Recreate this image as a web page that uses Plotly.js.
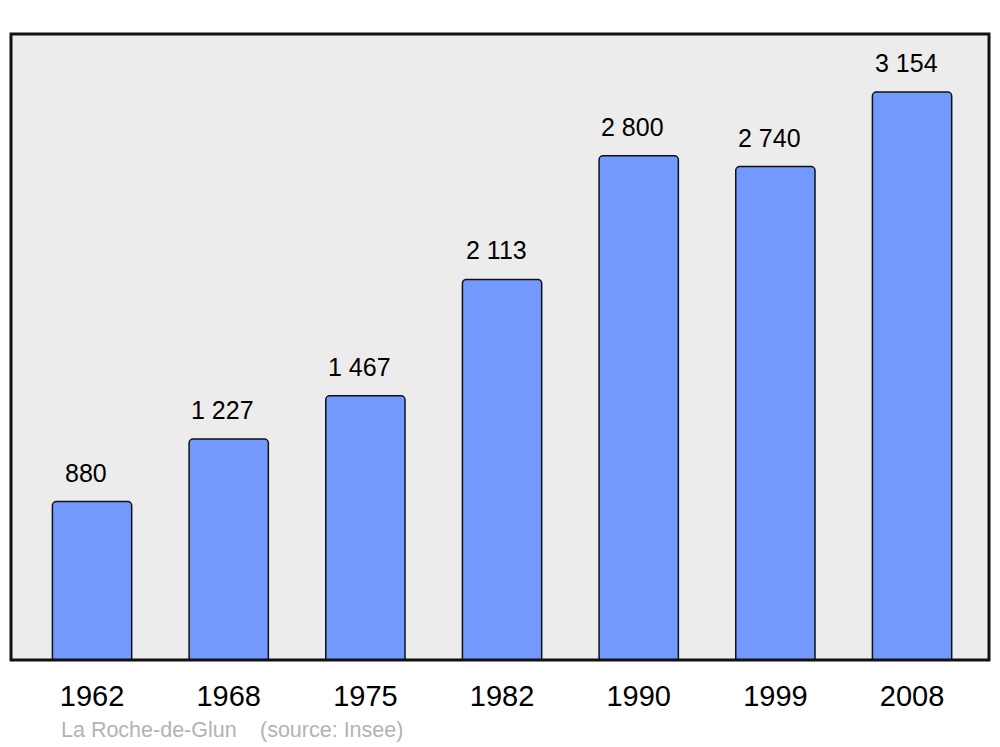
<!DOCTYPE html>
<html>
<head>
<meta charset="utf-8">
<script src="https://cdn.plot.ly/plotly-3.0.1.min.js"></script>
<style>html,body{margin:0;padding:0;background:#fff;}#chart{width:1000px;height:747px;}</style>
</head>
<body>
<div id="chart"></div>
<script>
const years = ["1962", "1968", "1975", "1982", "1990", "1999", "2008"];
const population = [880, 1227, 1467, 2113, 2800, 2740, 3154];
const commune = "La Roche-de-Glun";
const source = "(source: Insee)";

function fmt(n) {
  return String(n).replace(/\B(?=(\d{3})+(?!\d))/g, " ");
}

const trace = {
  type: "bar",
  x: years,
  y: population,
  width: 0.58,
  marker: { color: "#7399ff", line: { color: "#111", width: 1.5 }, cornerradius: 4 },
  hoverinfo: "none"
};

const annotations = years.map((yr, i) => ({
  x: i, y: population[i], xref: "x", yref: "y",
  text: fmt(population[i]), showarrow: false,
  yanchor: "bottom", yshift: 13, xshift: -6,
  font: { family: "Liberation Sans, Arial, sans-serif", size: 25, color: "#000" }
}));
annotations.push({
  xref: "paper", yref: "paper", x: (59 - 11) / 978, y: -(730 - 660) / 626,
  xanchor: "left", yanchor: "middle", text: commune, showarrow: false,
  font: { family: "Liberation Sans, Arial, sans-serif", size: 21.5, color: "#b3b3b3" }
});
annotations.push({
  xref: "paper", yref: "paper", x: (258 - 11) / 978, y: -(730 - 660) / 626,
  xanchor: "left", yanchor: "middle", text: source, showarrow: false,
  font: { family: "Liberation Sans, Arial, sans-serif", size: 21.5, color: "#b3b3b3" }
});

const layout = {
  width: 1000, height: 747,
  margin: { l: 11, r: 11, t: 34, b: 87 },
  paper_bgcolor: "#ffffff",
  plot_bgcolor: "#ececec",
  showlegend: false,
  xaxis: {
    type: "category",
    range: [-0.593, 6.563],
    showgrid: false, zeroline: false, showline: false,
    ticks: "", ticklabelstandoff: 16,
    tickfont: { family: "Liberation Sans, Arial, sans-serif", size: 29, color: "#000" }
  },
  yaxis: {
    range: [0, 3476],
    showgrid: false, zeroline: false, showline: false, showticklabels: false, ticks: ""
  },
  shapes: [{
    type: "rect", xref: "paper", yref: "paper", x0: 0, x1: 1, y0: 0, y1: 1,
    line: { color: "#111", width: 3 }, fillcolor: "rgba(0,0,0,0)", layer: "above"
  }],
  annotations: annotations
};

Plotly.newPlot("chart", [trace], layout, { displayModeBar: false, staticPlot: true });
</script>
</body>
</html>
